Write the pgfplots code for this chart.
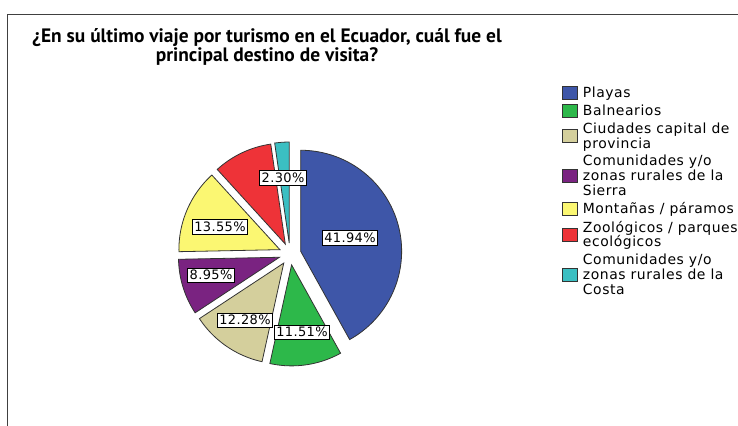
\documentclass[border=0pt]{standalone}
\usepackage{fontspec}
\usepackage{pgfplots}
\usepackage{pgfplotstable}
\pgfplotsset{compat=1.18}
\setmainfont{DejaVu Sans}
\newfontfamily\ptsans{PT Sans}
\newfontfamily\legfam{DejaVu Sans}[LetterSpace=4]
\newfontfamily\lblfam{DejaVu Sans}[LetterSpace=3]
\newcommand\titlefont{\ptsans\bfseries\fontsize{19.5}{16.5}\selectfont}
\newcommand\legfont{\legfam\fontsize{14}{14.8}\selectfont}
\newcommand\lblfont{\lblfam\fontsize{13}{14}\selectfont}
\definecolor{c0}{HTML}{3E56A8}
\definecolor{c1}{HTML}{2DB84A}
\definecolor{c2}{HTML}{D4CF9C}
\definecolor{c3}{HTML}{7A2381}
\definecolor{c4}{HTML}{FBF772}
\definecolor{c5}{HTML}{EE3338}
\definecolor{c6}{HTML}{3BBFC2}
\pgfplotstableread[col sep=comma]{
value
41.94
11.51
12.28
8.95
13.55
9.47
2.30
}\datatable
\begin{document}
\begin{tikzpicture}
\def\cx{290}\def\cy{172}\def\R{101}\def\ex{11}
\begin{axis}[
  width=738bp, height=426bp, scale only axis,
  xmin=0, xmax=738, ymin=0, ymax=426,
  axis lines=none, clip=false,
  legend image code/.code={\draw[#1, line width=0.7pt] (0bp,-6.5bp) rectangle (15bp,6.5bp);},
  legend style={at={(axis cs:562,341)}, anchor=north west, draw=none, fill=none,
    inner sep=0pt, font=\legfont, row sep=1.7bp, column sep=3bp,
    cells={anchor=west, align=left, inner sep=0pt}},
]
\pgfmathsetmacro{\cum}{90}
\pgfplotsforeachungrouped \i in {0,...,6}{%
  \pgfplotstablegetelem{\i}{value}\of\datatable
  \pgfmathsetmacro{\val}{\pgfplotsretval}%
  \pgfmathsetmacro{\a}{\cum}%
  \pgfmathsetmacro{\b}{\cum-3.6*\val}%
  \pgfmathsetmacro{\m}{(\a+\b)/2}%
  \pgfmathsetmacro{\ox}{\cx+\ex*cos(\m)}%
  \pgfmathsetmacro{\oy}{\cy+\ex*sin(\m)}%
  \xdef\cum{\b}%
  \edef\temp{\noexpand\addplot[fill=c\i, draw=black!80, line width=0.8pt, domain=\b:\a, samples=80, variable=\noexpand\t] ({\ox+\R*cos(\noexpand\t)},{\oy+\R*sin(\noexpand\t)}) -- (axis cs:\ox,\oy) -- cycle;}%
  \temp
}
\legend{Playas,Balnearios,{Ciudades capital de\\provincia},{Comunidades y/o\\zonas rurales de la\\Sierra},{Montañas / páramos},{Zoológicos / parques\\ecológicos},{Comunidades y/o\\zonas rurales de la\\Costa}}
\tikzset{lbl/.style={draw=black, fill=white, line width=0.8pt, inner sep=2.2bp, font=\lblfont}}
\node[lbl] at (axis cs:350,188) {41.94\%};
\node[lbl] at (axis cs:302,94) {11.51\%};
\node[lbl] at (axis cs:245,106) {12.28\%};
\node[lbl] at (axis cs:211,151) {8.95\%};
\node[lbl] at (axis cs:220,199) {13.55\%};
\node[lbl] at (axis cs:283,248) {2.30\%};
\node[align=center, font=\titlefont] at (axis cs:267,379) {¿En su último viaje por turismo en el Ecuador, cuál fue el\\principal destino de visita?};
\draw[black!75, line width=1pt] (axis cs:738,411) -- (axis cs:7,411) -- (axis cs:7,0);
\coordinate (SW) at (axis cs:0,0);
\coordinate (NE) at (axis cs:738,426);
\end{axis}
\pgfresetboundingbox
\path[use as bounding box] (SW) rectangle (NE);
\end{tikzpicture}
\end{document}
